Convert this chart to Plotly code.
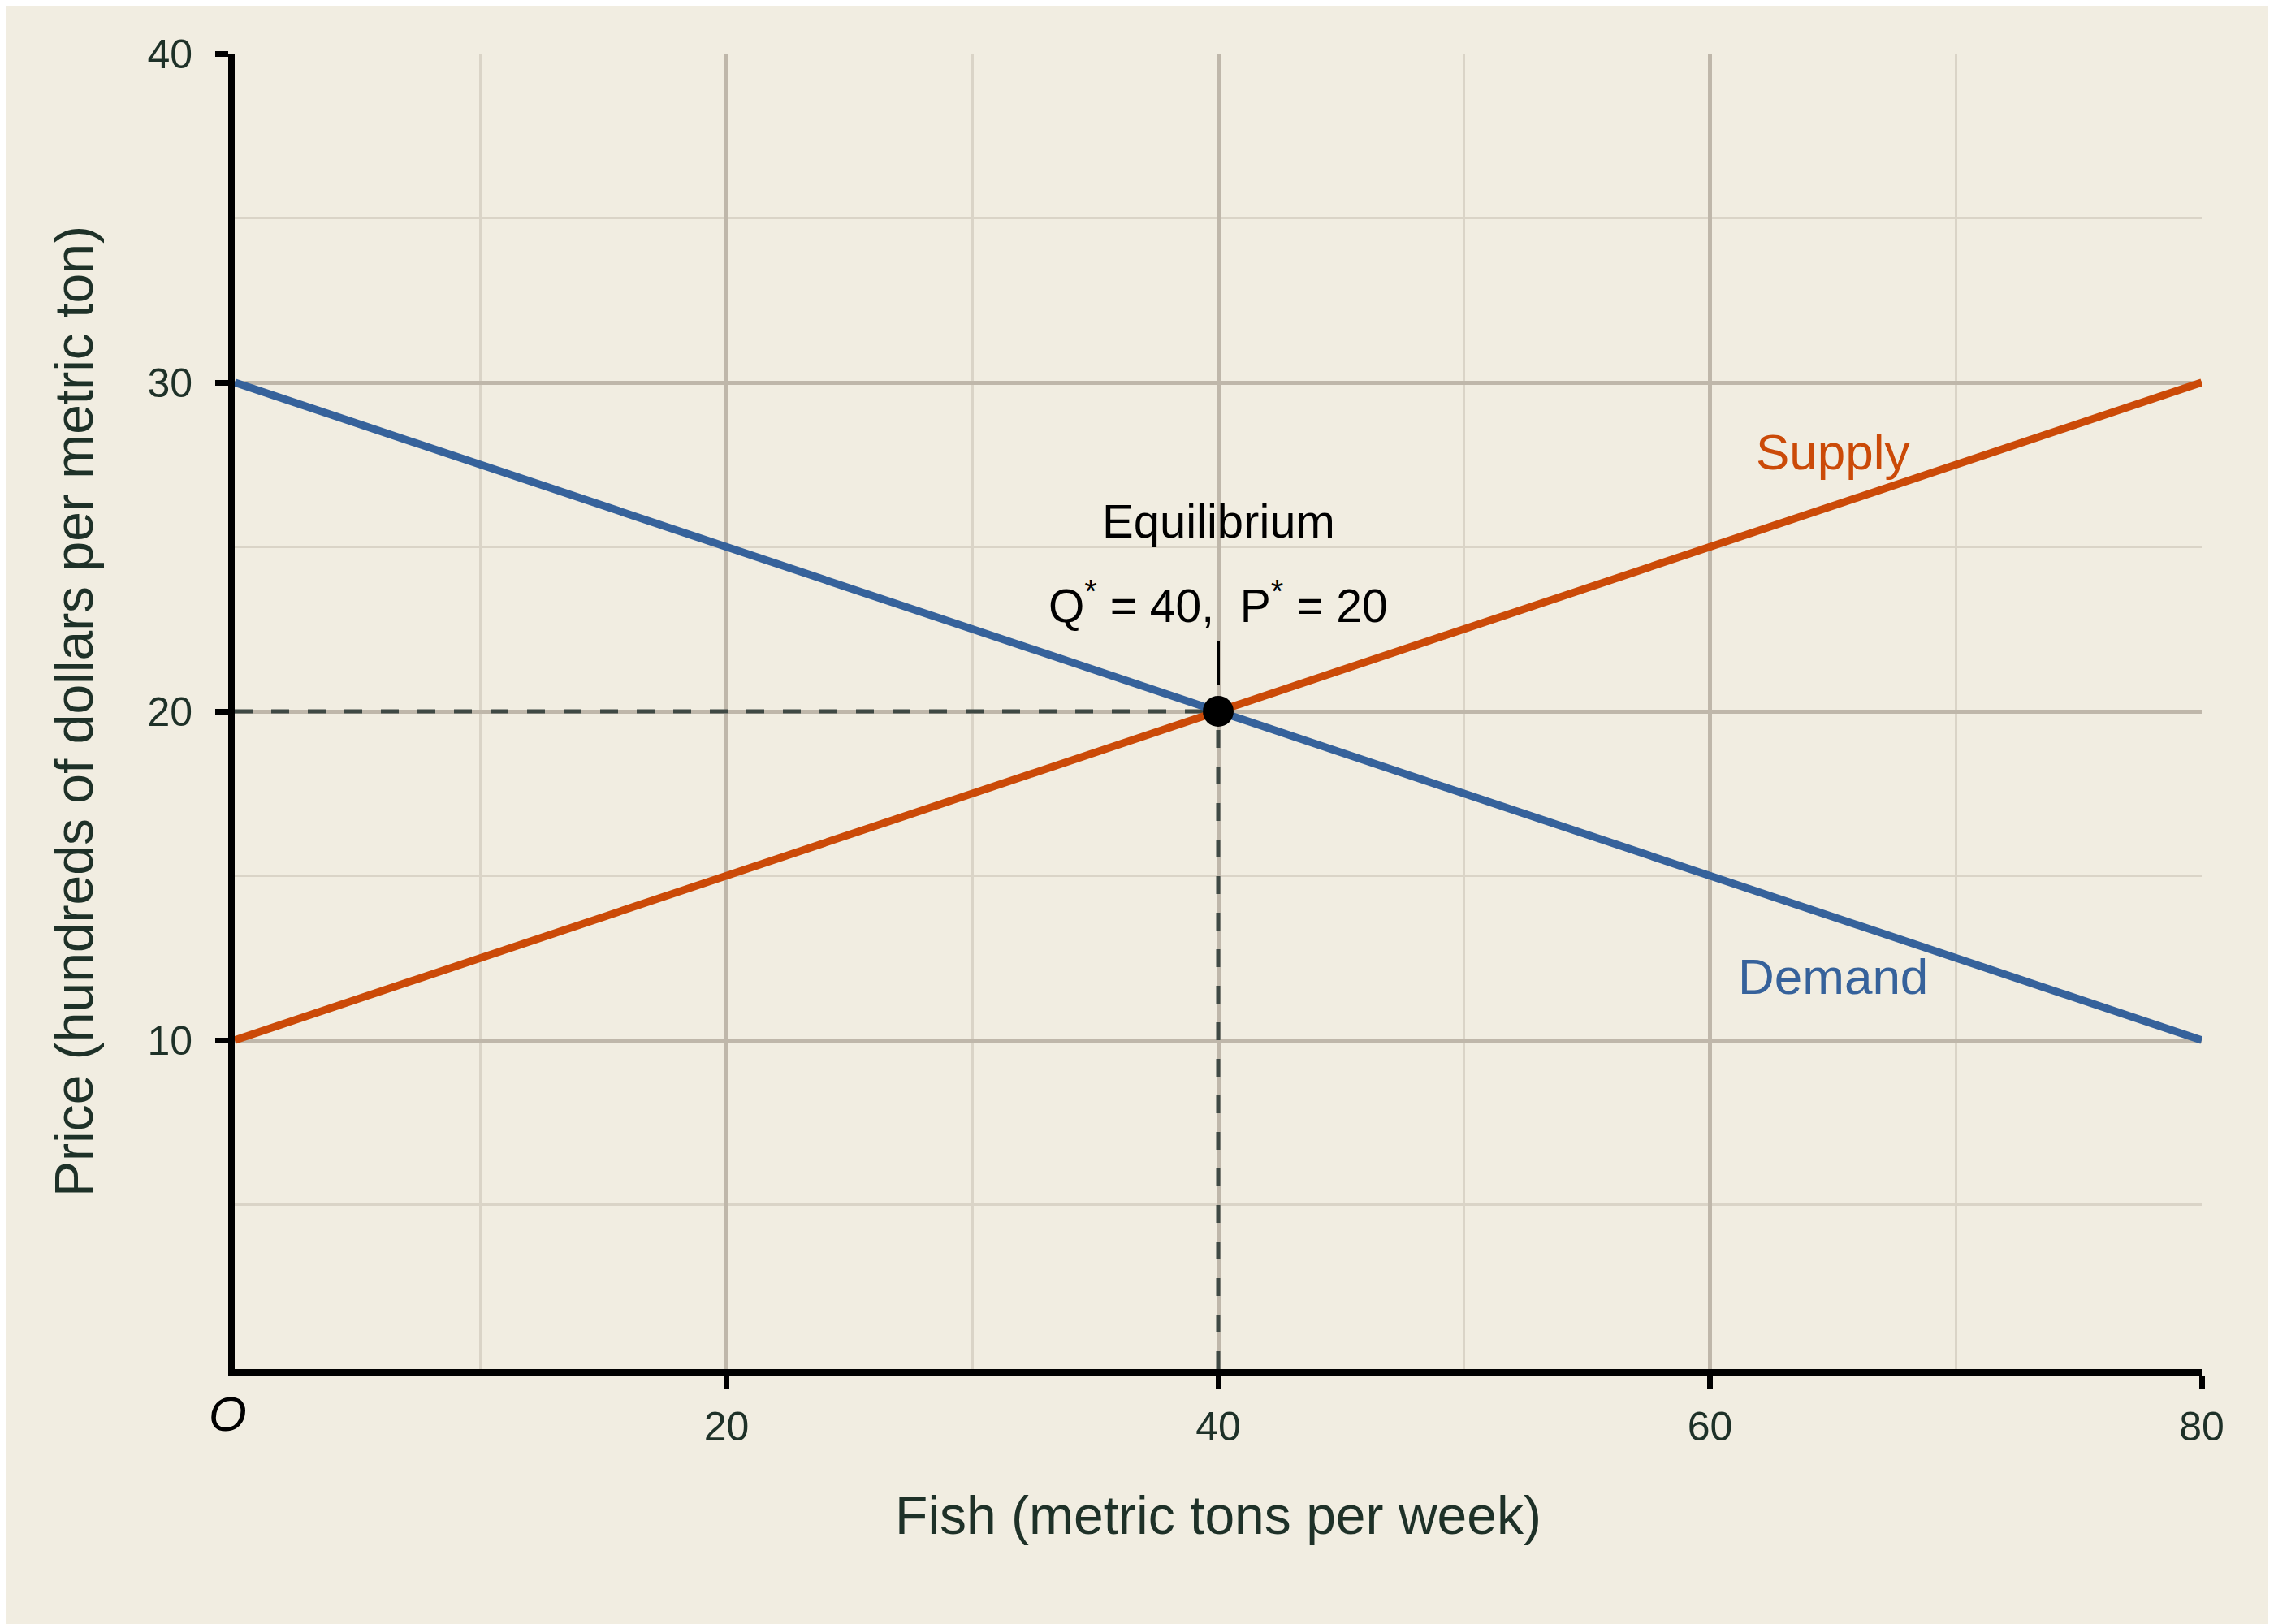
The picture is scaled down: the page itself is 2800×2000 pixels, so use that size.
import plotly.graph_objects as go

# Data
quantity = [0, 20, 40, 60, 80]
demand_price = [30, 25, 20, 15, 10]
supply_price = [10, 15, 20, 25, 30]
eq_q = 40
eq_p = 20
x_ticks = [20, 40, 60, 80]
y_ticks = [10, 20, 30, 40]

BG = "#F1EDE1"
FONT = "Liberation Sans, Arial, Helvetica, sans-serif"
TXT = "#1E3128"
MAJOR = "#BFB7AA"
MINOR = "#DAD4C7"
BLUE = "#36629B"
ORANGE = "#CB4A08"
DASH = "#3F4944"

fig = go.Figure()

# dashed reference lines
fig.add_trace(go.Scatter(x=[0, eq_q], y=[eq_p, eq_p], mode="lines",
                         line=dict(color=DASH, width=5, dash="22px,23px"),
                         hoverinfo="skip", showlegend=False))
fig.add_trace(go.Scatter(x=[eq_q, eq_q], y=[0, eq_p], mode="lines",
                         line=dict(color=DASH, width=5, dash="22px,23px"),
                         hoverinfo="skip", showlegend=False))

fig.add_trace(go.Scatter(x=quantity, y=demand_price, mode="lines", name="Demand",
                         line=dict(color=BLUE, width=9.5), showlegend=False))
fig.add_trace(go.Scatter(x=quantity, y=supply_price, mode="lines", name="Supply",
                         line=dict(color=ORANGE, width=9.5), showlegend=False))

fig.add_trace(go.Scatter(x=[eq_q], y=[eq_p], mode="markers",
                         marker=dict(color="black", size=38), showlegend=False))

axis_common = dict(
    showline=True, linecolor="black", linewidth=8,
    ticks="outside", ticklen=16, tickwidth=7, tickcolor="black",
    tickfont=dict(family=FONT, size=50, color=TXT),
    showgrid=True, gridcolor=MAJOR, gridwidth=4.5,
    zeroline=False,
    minor=dict(showgrid=True, gridcolor=MINOR, gridwidth=3, ticks=""),
)

fig.update_xaxes(
    range=[0, 80], tickmode="array", tickvals=x_ticks,
    ticktext=[str(v) for v in x_ticks],
    minor_dtick=10, minor_tick0=0,
    title=dict(text="Fish (metric tons per week)",
               font=dict(family=FONT, size=66, color=TXT), standoff=62),
    ticklabelstandoff=4,
    **axis_common,
)
fig.update_yaxes(
    range=[0, 40], tickmode="array", tickvals=y_ticks,
    ticktext=[str(v) for v in y_ticks],
    minor_dtick=5, minor_tick0=0,
    title=dict(text="Price (hundreds of dollars per metric ton)",
               font=dict(family=FONT, size=66, color=TXT), standoff=48),
    ticklabelstandoff=18,
    **axis_common,
)

annotations = [
    dict(x=eq_q, y=25.8, text="Equilibrium", showarrow=False,
         font=dict(family=FONT, size=58, color="black"), xanchor="center", yanchor="middle"),
    dict(x=eq_q, y=23.3, text="Q<sup>*</sup> = 40,  P<sup>*</sup> = 20", showarrow=False,
         font=dict(family=FONT, size=57, color="black"), xanchor="center", yanchor="middle"),
    dict(x=eq_q, y=eq_p, text="", showarrow=True, arrowhead=0, arrowwidth=4,
         arrowcolor="black", ax=0, ay=-88, standoff=33),
    dict(x=65, y=27.9, text="Supply", showarrow=False,
         font=dict(family=FONT, size=62, color=ORANGE), xanchor="center", yanchor="middle"),
    dict(x=65, y=11.95, text="Demand", showarrow=False,
         font=dict(family=FONT, size=62, color=BLUE), xanchor="center", yanchor="middle"),
    dict(x=0, y=0, xref="x", yref="y", text="<i>O</i>", showarrow=False,
         font=dict(family=FONT, size=60, color="black"), xanchor="center", yanchor="middle",
         xshift=-9, yshift=-55),
]

fig.update_layout(
    width=2792, height=1992,
    margin=dict(l=281, r=89, t=58, b=314),
    paper_bgcolor=BG, plot_bgcolor=BG,
    annotations=annotations,
    showlegend=False,
)

fig.write_html("out.html")
